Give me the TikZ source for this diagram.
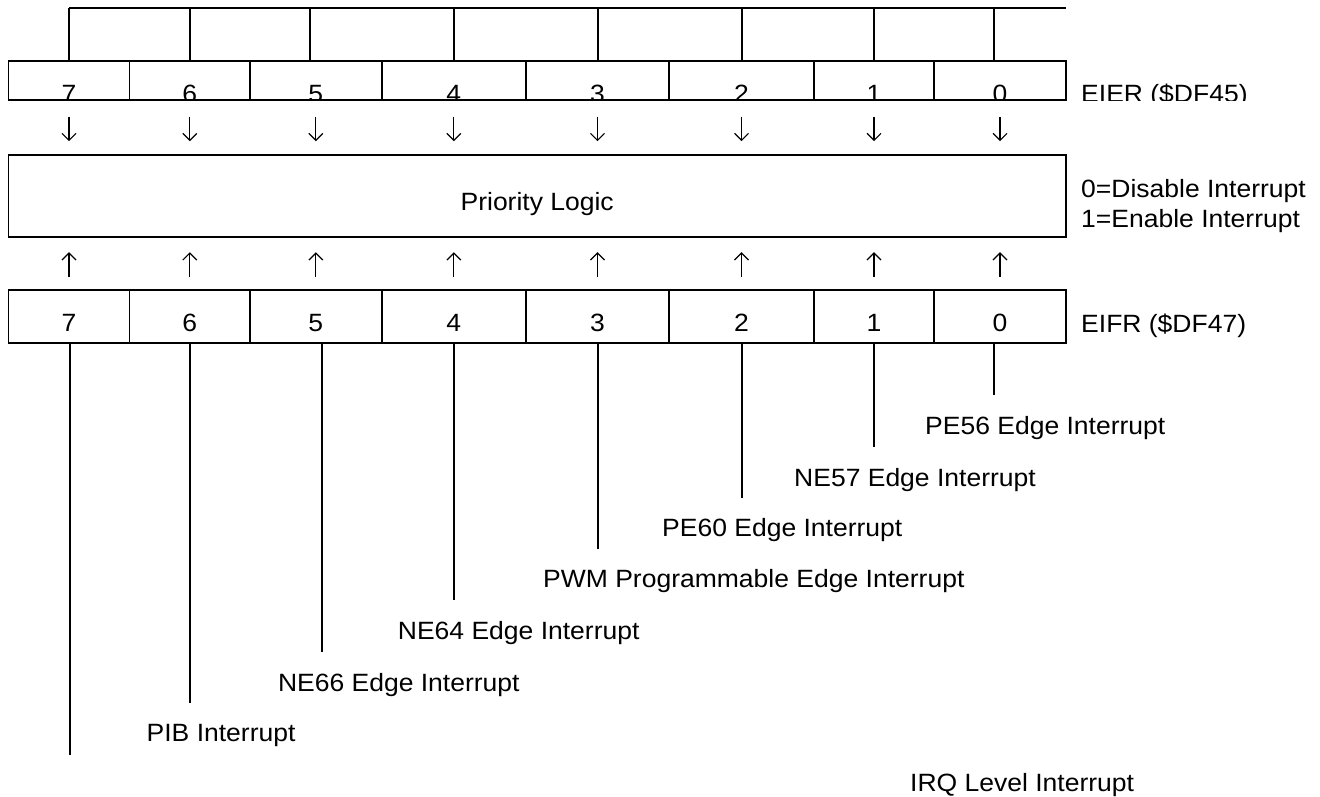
\documentclass[tikz,border=0pt]{standalone}
\usepackage{fontspec}
\setmainfont{Liberation Sans}[FakeStretch=1.06]
\usepackage{tikz}
\usetikzlibrary{calc,arrows.meta}

\begin{document}
\begin{tikzpicture}[x=1pt,y=-1pt,font=\fontsize{25}{30}\selectfont]
\tikzstyle{cell}=[draw,line width=1.7pt,inner sep=0,outer sep=0]
\tikzstyle{bitno}=[anchor=base,inner sep=0]
\tikzstyle{note}=[anchor=base west,inner sep=0]
\tikzstyle{wire}=[line width=1.7pt]
\tikzstyle{flow}=[line width=1.2pt,-{Straight Barb[length=7pt,width=14pt,line width=1.2pt]}]
\useasboundingbox (0,0) rectangle (1320,796);

% register cells
\foreach \n/\a/\b in {7/8.4/129.6,6/129.6/250,5/250/381.7,4/381.7/526,3/526/669,2/669/814,1/814/934,0/934/1066}{
  \node[cell,minimum width=\b pt-\a pt,minimum height=39pt] (eier\n) at ({(\a+\b)/2},80.5) {};
  \node[cell,minimum width=\b pt-\a pt,minimum height=53pt] (eifr\n) at ({(\a+\b)/2},316.5) {};
  \node[bitno] (fbit\n) at ($(eifr\n.center)+(0,14.5)$) {\n};
  \draw[flow] ($(eier\n.south)+(0,16.7)$) -- ++(0,24.5);
  \draw[flow] ($(eifr\n.north)+(0,-13.3)$) -- ++(0,-24.5);
}

% bit numbers of EIER sit on the lower edge
\begin{scope}
\clip (0,0) rectangle (1320,100);
\foreach \n in {7,...,0}
  \node[bitno] (ebit\n) at ($(eier\n.center)+(0,21.5)$) {\n};
\node[note] (eiername) at ($(eier0.south east)+(15,2)$) {EIER (\$DF45)};
\end{scope}

% open row above EIER
\draw[wire] (69,8) -- (1066,8);
\foreach \x in {69,190,310,454,598,742,874,994}
  \draw[wire] (\x,8) -- (\x,61);

% priority logic
\node[cell,minimum width=1057.6pt,minimum height=82pt] (logic) at (537.2,196) {};
\node[bitno] (logictext) at ($(logic.center)+(0,14)$) {Priority Logic};
\node[note] (dis) at (1081,197) {0=Disable Interrupt};
\node[note] (ena) at (1081,227) {1=Enable Interrupt};
\node[note] (eifrname) at ($(eifr0.east)+(15,15.5)$) {EIFR (\$DF47)};

% interrupt sources
\coordinate (tail0) at (994,395);
\coordinate (tail1) at (874,447);
\coordinate (tail2) at (742,498);
\coordinate (tail3) at (598,549);
\coordinate (tail4) at (454,600);
\coordinate (tail5) at (322,652);
\coordinate (tail6) at (190,703);
\coordinate (tail7) at (70,755);
\foreach \n in {0,...,7}
  \draw[wire] (tail\n |- eifr\n.south) -- (tail\n);

\node[note] (src0) at (925,434) {PE56 Edge Interrupt};
\node[note] (src1) at (794,486) {NE57 Edge Interrupt};
\node[note] (src2) at (662,536) {PE60 Edge Interrupt};
\node[note] (src3) at (543,587) {PWM Programmable Edge Interrupt};
\node[note] (src4) at (397.7,639) {NE64 Edge Interrupt};
\node[note] (src5) at (277.8,691) {NE66 Edge Interrupt};
\node[note] (src6) at (146.5,741) {PIB Interrupt};
\node[note] (src7) at (910,791) {IRQ Level Interrupt};
\end{tikzpicture}
\end{document}
